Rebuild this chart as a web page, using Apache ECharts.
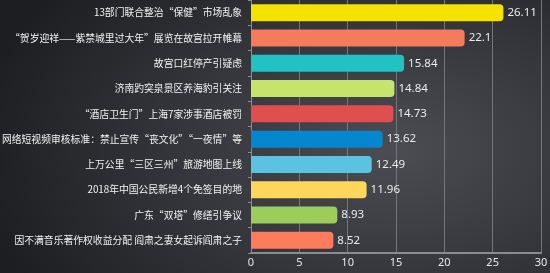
<!DOCTYPE html>
<html><head><meta charset="utf-8">
<script src="https://cdn.jsdelivr.net/npm/echarts@6/dist/echarts.min.js"></script>
<style>
html,body{margin:0;padding:0;}
body{width:550px;height:273px;background:radial-gradient(ellipse 420px 260px at 390px 150px,#4b4d52 0%,#34363b 50%,#1d1e21 100%);}
#c{width:550px;height:273px;}
</style></head><body>
<div id="c"></div>
<script>
var categories = ["13部门联合整治“保健”市场乱象","“贺岁迎祥——紫禁城里过大年”展览在故宫拉开帷幕","故宫口红停产引疑虑","济南趵突泉景区养海豹引关注","“酒店卫生门”上海7家涉事酒店被罚","网络短视频审核标准：禁止宣传“丧文化”“一夜情”等","上万公里“三区三州”旅游地图上线","2018年中国公民新增4个免签目的地","广东“双塔”修缮引争议","因不满音乐著作权收益分配 阎肃之妻女起诉阎肃之子"];
var values = [26.11,22.1,15.84,14.84,14.73,13.62,12.49,11.96,8.93,8.52];
var colors = ["#f5e200","#f47b5b","#22c1c3","#c6e46c","#df4f4f","#0487cf","#5bc2e2","#fdd75b","#9ccd5b","#fd7c5b"];
var xTicks = [0,5,10,15,20,25,30];

var chart = echarts.init(document.getElementById('c'), null, {renderer:'canvas'});
chart.setOption({
  backgroundColor:'transparent',
  animation:false,
  grid:{left:251,right:9,top:0,bottom:20,containLabel:false,outerBoundsMode:'none'},
  xAxis:{type:'value',min:xTicks[0],max:xTicks[xTicks.length-1],interval:5,
    axisLine:{show:true,lineStyle:{color:'#8a8c90',width:2}},
    axisTick:{show:false},
    axisLabel:{color:'#e8e8e8',fontSize:11,fontFamily:'Noto Sans',margin:4},
    splitLine:{show:true,lineStyle:{color:'#75777b',width:1}}},
  yAxis:{type:'category',data:categories,inverse:true,
    axisLine:{show:true,lineStyle:{color:'#8a8c90',width:1}},
    axisTick:{show:true,length:3,lineStyle:{color:'#8a8c90'}},
    axisLabel:{color:'#f2f2f2',fontSize:9.8,fontFamily:'Noto Sans CJK SC',margin:9}},
  series:[{type:'bar',barWidth:17,
    data:values.map(function(v,i){return {value:v,itemStyle:{color:colors[i]}};}),
    itemStyle:{borderRadius:[0,4,4,0]},
    label:{show:true,position:'right',color:'#ececec',fontSize:11.5,fontFamily:'Noto Sans',distance:4}}]
});
</script></body></html>
